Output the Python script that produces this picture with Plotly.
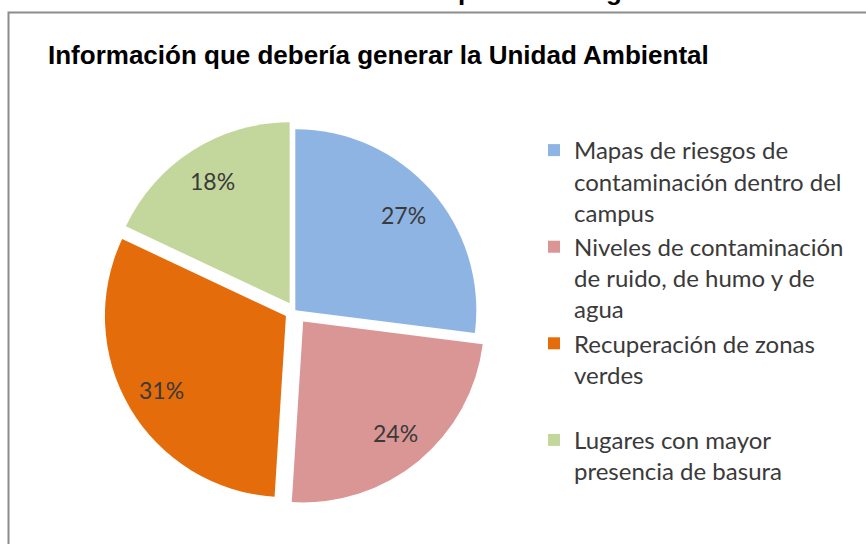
import math
import plotly.graph_objects as go

# ---------------- data ----------------
title_text = "Información que debería generar la Unidad Ambiental"
categories = [
    "Mapas de riesgos de<br>contaminación dentro del<br>campus",
    "Niveles de contaminación<br>de ruido, de humo y de<br>agua",
    "Recuperación de zonas<br>verdes<br> ",
    "Lugares con mayor<br>presencia de basura",
]
values = [27, 24, 31, 18]
colors = ["#8EB4E3", "#D99694", "#E46C0A", "#C3D69B"]
pulls = [0.006, 0.075, 0.055, 0.05]
clipped_heading_chars = ["p", "g"]

# ---------------- layout constants ----------------
W, H = 866, 544
CX, CY, R = 294.5, 311.0, 181.0
maxp = max(pulls)
half = R * (1 + maxp)
dom_x = [(CX - half) / W, (CX + half) / W]
dom_y = [1 - (CY + half) / H, 1 - (CY - half) / H]

TEXT_COLOR = "#3A3A3A"
BODY_FONT = "Lato, 'Open Sans', sans-serif"

fig = go.Figure()
fig.add_trace(go.Pie(
    labels=categories,
    values=values,
    marker=dict(colors=colors, line=dict(width=0)),
    pull=pulls,
    sort=False,
    direction="clockwise",
    rotation=0,
    textinfo="none",
    hoverinfo="label+percent",
    domain=dict(x=dom_x, y=dom_y),
))

# percentage labels placed along each slice bisector (computed from the data)
annotations = []
total = sum(values)
cum = 0.0
for v, p in zip(values, pulls):
    a0 = cum / total * 2 * math.pi
    cum += v
    a1 = cum / total * 2 * math.pi
    mid = (a0 + a1) / 2
    ux, uy = math.sin(mid), -math.cos(mid)
    dist = p * R + 0.80 * R
    px = CX + ux * dist
    py = CY + uy * dist
    annotations.append(dict(
        x=px / W, y=1 - py / H, xref="paper", yref="paper",
        text=f"{round(v / total * 100)}%", showarrow=False,
        font=dict(family=BODY_FONT, size=23, color=TEXT_COLOR),
        xanchor="center", yanchor="middle",
    ))

# title
annotations.append(dict(
    x=46 / W, y=1 - 55 / H, xref="paper", yref="paper",
    text=f"<b>{title_text}</b>", showarrow=False,
    font=dict(family="'Liberation Sans Narrow', 'Arial Narrow', 'Liberation Sans', sans-serif",
              size=26, color="#000000"),
    xanchor="left", yanchor="middle",
))

# clipped heading above the frame (only descenders visible)
for ch, xpx in zip(clipped_heading_chars, [466, 614]):
    annotations.append(dict(
        x=xpx / W, y=1 - (-9) / H, xref="paper", yref="paper",
        text=f"<b>{ch}</b>", showarrow=False,
        font=dict(family="'Liberation Sans', Arial, sans-serif", size=26, color="#000000"),
        xanchor="center", yanchor="middle",
    ))

fig.update_layout(
    width=W, height=H,
    margin=dict(l=0, r=0, t=0, b=0),
    paper_bgcolor="white",
    plot_bgcolor="white",
    showlegend=True,
    legend=dict(
        x=534 / W, y=1 - 128 / H, xanchor="left", yanchor="top",
        font=dict(family=BODY_FONT, size=24, color=TEXT_COLOR),
        valign="top",
        bgcolor="rgba(0,0,0,0)",
        traceorder="normal",
    ),
    annotations=annotations,
    shapes=[dict(
        type="rect", xref="paper", yref="paper",
        x0=8.5 / W, x1=1.2, y0=-0.2, y1=1 - 12.5 / H,
        line=dict(color="#8C8C8C", width=2), layer="below",
    )],
)

fig.write_html("out.html", config={"displayModeBar": False},
               post_script="document.body.style.margin='0px';")
